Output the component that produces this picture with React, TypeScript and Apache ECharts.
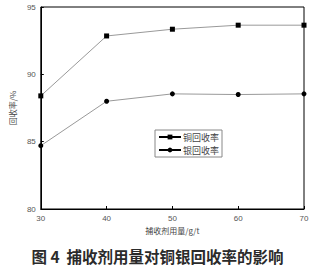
import React, { useEffect, useRef } from "react";
import * as echarts from "echarts";

const dosages = [30, 40, 50, 60, 70];
const cuRecovery = [88.4, 92.85, 93.35, 93.65, 93.65];
const agRecovery = [84.7, 88.0, 88.55, 88.5, 88.55];
const seriesNames = ["铜回收率", "银回收率"];
const titleText = "图 4  捕收剂用量对铜银回收率的影响";
const xName = "捕收剂用量/g/t";
const yName = "回收率/%";

export default function App() {
  const ref = useRef<HTMLDivElement>(null);
  useEffect(() => {
    const chart = echarts.init(ref.current!, undefined, { renderer: "svg" });
    const font = "Liberation Sans";
    chart.setOption({
      animation: false,
      backgroundColor: "#fff",
      title: {
        text: titleText,
        left: "center",
        top: 243,
        textStyle: { fontSize: 15.5, fontWeight: "bold", color: "#2b2b2b", fontFamily: "Noto Sans CJK SC" },
      },
      grid: { left: 33, right: 11, top: 7, bottom: 63, show: true, borderColor: "#000", borderWidth: 1 },
      legend: {
        orient: "vertical",
        left: 155,
        top: 130,
        itemWidth: 22,
        itemHeight: 6,
        itemGap: 3,
        padding: [2, 3, 2, 3],
        borderColor: "#888",
        borderWidth: 1,
        lineStyle: { color: "#000" },
        textStyle: { fontSize: 9, lineHeight: 10, color: "#444", fontFamily: "Noto Sans CJK SC", padding: [0, 0, 0, -3] },
        data: seriesNames,
      },
      xAxis: {
        type: "value",
        min: 30,
        max: 70,
        interval: 10,
        name: xName,
        nameLocation: "middle",
        nameGap: 17,
        nameTextStyle: { fontSize: 8, color: "#444", fontFamily: "Noto Sans CJK SC" },
        axisLine: { lineStyle: { color: "#000", width: 1 } },
        axisTick: { inside: true, length: 3, lineStyle: { color: "#000" } },
        axisLabel: { fontSize: 8, color: "#555", fontFamily: font, margin: 5 },
        splitLine: { show: false },
      },
      yAxis: {
        type: "value",
        min: 80,
        max: 95,
        interval: 5,
        name: yName,
        nameLocation: "middle",
        nameGap: 24,
        nameRotate: 90,
        nameTextStyle: { fontSize: 8, color: "#444", fontFamily: "Noto Sans CJK SC" },
        axisLine: { show: true, lineStyle: { color: "#000", width: 1 } },
        axisTick: { show: true, inside: true, length: 3, lineStyle: { color: "#000" } },
        axisLabel: { fontSize: 8, color: "#555", fontFamily: font, margin: 5 },
        splitLine: { show: false },
      },
      series: [
        {
          name: seriesNames[0],
          type: "line",
          data: dosages.map((d, i) => [d, cuRecovery[i]]),
          symbol: "rect",
          symbolSize: 5,
          lineStyle: { color: "#999", width: 1 },
          itemStyle: { color: "#000" },
        },
        {
          name: seriesNames[1],
          type: "line",
          data: dosages.map((d, i) => [d, agRecovery[i]]),
          symbol: "circle",
          symbolSize: 5,
          lineStyle: { color: "#999", width: 1 },
          itemStyle: { color: "#000" },
        },
      ],
    });
    return () => chart.dispose();
  }, []);
  return <div ref={ref} style={{ width: 315, height: 272, position: "absolute", left: 0, top: 0 }} />;
}
